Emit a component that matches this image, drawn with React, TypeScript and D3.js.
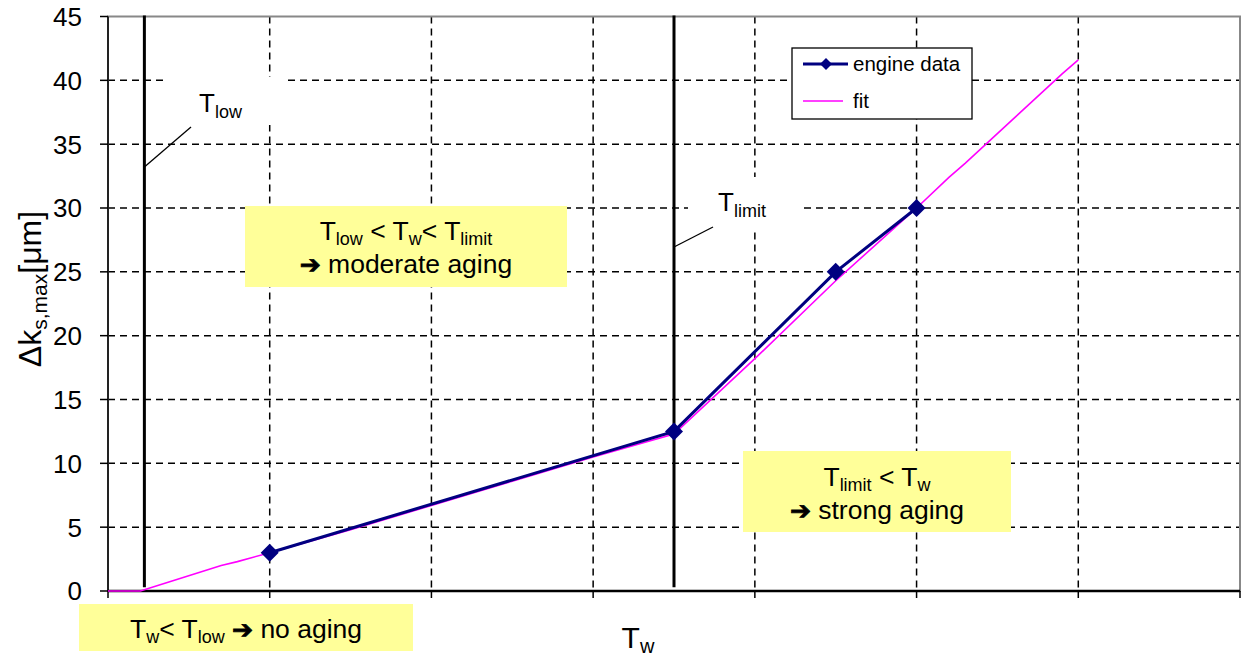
import React from "react";
import * as d3 from "d3";

const yTicks = [0, 5, 10, 15, 20, 25, 30, 35, 40, 45];
const xGrid = [1, 2, 3, 4, 5, 6];
const xTicks = [0, 1, 2, 3, 4, 5, 6, 7];

const engineT = [1, 3.5, 4.5, 5];
const engineK = [3, 12.5, 25, 30];

const fitT = [0, 0.2, 0.45, 0.7, 0.8, 1.0, 1.5, 2.0, 2.5, 3.0, 3.5, 4.0, 4.5, 5.0, 5.2, 5.3, 5.6, 5.9, 6.0];
const fitK = [0, 0, 1.0, 2.0, 2.3, 3.0, 4.8, 6.7, 8.6, 10.5, 12.3, 18.2, 24.3, 30, 32.4, 33.5, 37.0, 40.5, 41.6];

const T_LOW = 0.225;
const T_LIMIT = 3.5;

const W = 1242;
const H = 659;
const FONT = "'Liberation Sans', Arial, sans-serif";
const ARROW_FONT = "'DejaVu Sans', sans-serif";

export default function App() {
  const x = d3.scaleLinear().domain([0, 7]).range([108, 1240]);
  const y = d3.scaleLinear().domain([0, 45]).range([591, 16.5]);

  const engine = engineT.map((t, i) => [t, engineK[i]] as [number, number]);
  const fit = fitT.map((t, i) => [t, fitK[i]] as [number, number]);
  const line = d3
    .line<[number, number]>()
    .x((d) => x(d[0]))
    .y((d) => y(d[1]));

  const diamond = (s: number) => `M0,${-s}L${s},0L0,${s}L${-s},0Z`;
  const yellow = "#FFFF99";
  const BF = 26.5;
  const SF = 18;

  const Arrow = () => (
    <tspan fontFamily={ARROW_FONT} fontWeight="bold" fontSize={25} stroke="#000" strokeWidth={0.8}>
      {"\u2794"}
    </tspan>
  );

  return (
    <svg
      width={W}
      height={H}
      style={{ position: "absolute", left: 0, top: 0, background: "#fff" }}
      fontFamily={FONT}
    >
      {/* grid */}
      {yTicks
        .filter((v) => v > 0 && v < 45)
        .map((v) => (
          <line key={"hy" + v} x1={x(0)} x2={x(7)} y1={y(v)} y2={y(v)} stroke="#000" strokeWidth={1.5} strokeDasharray="7,5" />
        ))}
      {xGrid.map((v) => (
        <line key={"vx" + v} x1={x(v)} x2={x(v)} y1={y(45)} y2={y(0)} stroke="#000" strokeWidth={1.5} strokeDasharray="7,5" />
      ))}

      {/* plot border */}
      <rect x={x(0)} y={y(45)} width={x(7) - x(0)} height={y(0) - y(45)} fill="none" stroke="#888" strokeWidth={2} />
      <line x1={x(0)} x2={x(0)} y1={y(45)} y2={y(0)} stroke="#222" strokeWidth={2} />
      <line x1={x(0)} x2={x(7)} y1={y(0)} y2={y(0)} stroke="#000" strokeWidth={2.5} />

      {/* ticks */}
      {yTicks.map((v) => (
        <g key={"yt" + v}>
          <line x1={x(0) - 8} x2={x(0)} y1={y(v)} y2={y(v)} stroke="#000" strokeWidth={1.5} />
          <text x={82} y={y(v)} dy="0.36em" textAnchor="end" fontSize={26} fill="#000">
            {v}
          </text>
        </g>
      ))}
      {xTicks.map((v) => (
        <line key={"xt" + v} x1={x(v)} x2={x(v)} y1={y(0)} y2={y(0) + 7} stroke="#000" strokeWidth={1.5} />
      ))}

      {/* T_low / T_limit vertical lines */}
      <line x1={x(T_LOW)} x2={x(T_LOW)} y1={y(45) - 1} y2={y(0.3)} stroke="#000" strokeWidth={3} />
      <line x1={x(T_LIMIT)} x2={x(T_LIMIT)} y1={y(45) - 1} y2={y(0.3)} stroke="#000" strokeWidth={3} />

      {/* T_low label */}
      <rect x={168} y={77} width={115} height={48} fill="#fff" />
      <line x1={x(T_LOW)} y1={167} x2={191} y2={127} stroke="#000" strokeWidth={1.3} />
      <text x={199} y={112} fontSize={26} fill="#000">
        T<tspan fontSize={SF} dy={6}>low</tspan>
      </text>

      {/* T_limit label */}
      <rect x={688} y={177} width={115} height={53} fill="#fff" />
      <line x1={x(T_LIMIT)} y1={247} x2={713} y2={227} stroke="#000" strokeWidth={1.3} />
      <text x={718} y={211} fontSize={26} fill="#000">
        T<tspan fontSize={SF} dy={6}>limit</tspan>
      </text>

      {/* fit */}
      <path d={line(fit) || ""} fill="none" stroke="#FF00FF" strokeWidth={1.6} />
      {/* engine data */}
      <path d={line(engine) || ""} fill="none" stroke="#000080" strokeWidth={3} />
      {engine.map((d, i) => (
        <path key={"m" + i} d={diamond(9)} transform={`translate(${x(d[0])},${y(d[1])})`} fill="#000080" />
      ))}

      {/* legend */}
      <rect x={792} y={48} width={180} height={71} fill="#fff" stroke="#000" strokeWidth={1.3} />
      <line x1={803} x2={848} y1={64} y2={64} stroke="#000080" strokeWidth={3} />
      <path d={diamond(6)} transform="translate(826,64)" fill="#000080" />
      <text x={853} y={71} fontSize={20.5} fill="#000">
        engine data
      </text>
      <line x1={803} x2={843} y1={101} y2={101} stroke="#FF00FF" strokeWidth={1.6} />
      <text x={853} y={108} fontSize={20.5} fill="#000">
        fit
      </text>

      {/* yellow annotation boxes */}
      <rect x={79} y={604} width={334} height={47} fill={yellow} />
      <text x={246} y={638} fontSize={BF} textAnchor="middle" fill="#000">
        T<tspan fontSize={SF} dy={5}>w</tspan>
        <tspan dy={-5}>{"< T"}</tspan>
        <tspan fontSize={SF} dy={5}>low</tspan>
        <tspan dy={-5}>{" "}</tspan>
        <Arrow />
        <tspan>{" no aging"}</tspan>
      </text>

      <rect x={245} y={206} width={322} height={81} fill={yellow} />
      <text x={406} y={240} fontSize={BF} textAnchor="middle" fill="#000">
        T<tspan fontSize={SF} dy={5}>low</tspan>
        <tspan dy={-5}>{" < T"}</tspan>
        <tspan fontSize={SF} dy={5}>w</tspan>
        <tspan dy={-5}>{"< T"}</tspan>
        <tspan fontSize={SF} dy={5}>limit</tspan>
      </text>
      <text x={406} y={273} fontSize={BF} textAnchor="middle" fill="#000">
        <Arrow />
        <tspan>{" moderate aging"}</tspan>
      </text>

      <rect x={743} y={451} width={268} height={81} fill={yellow} />
      <text x={877} y={486} fontSize={BF} textAnchor="middle" fill="#000">
        T<tspan fontSize={SF} dy={5}>limit</tspan>
        <tspan dy={-5}>{" < T"}</tspan>
        <tspan fontSize={SF} dy={5}>w</tspan>
      </text>
      <text x={877} y={519} fontSize={BF} textAnchor="middle" fill="#000">
        <Arrow />
        <tspan>{" strong aging"}</tspan>
      </text>

      {/* axis titles */}
      <text x={638} y={648} fontSize={30} textAnchor="middle" fill="#000">
        T<tspan fontSize={20} dy={5}>w</tspan>
      </text>
      <text transform="translate(41,289) rotate(-90)" fontSize={32} textAnchor="middle" fill="#000">
        Δk<tspan fontSize={21} dy={6}>s,max</tspan>
        <tspan dy={-6}>[μm]</tspan>
      </text>
    </svg>
  );
}
